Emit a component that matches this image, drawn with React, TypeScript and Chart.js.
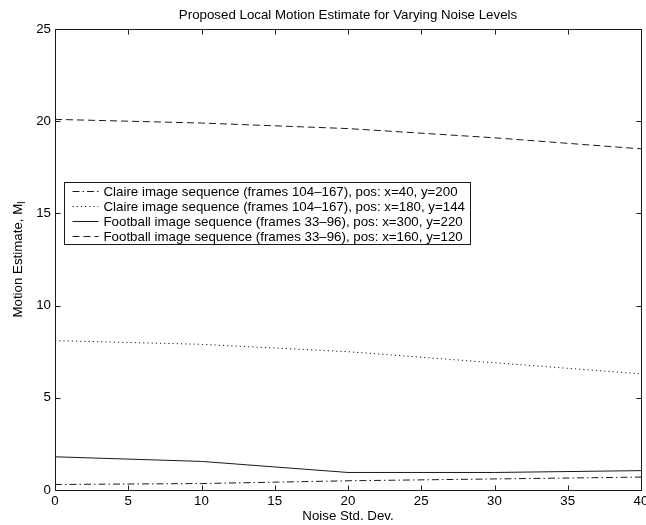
import React, { useEffect, useRef } from "react";
import { Chart, registerables } from "chart.js";

Chart.register(...registerables);

// Noise standard deviation at which each estimate was computed
const noiseLevels = [0, 10, 20, 30, 40];

// Local motion estimates per sequence / position
const claireX40Y200 = [0.3, 0.35, 0.5, 0.6, 0.7];
const claireX180Y144 = [8.1, 7.9, 7.5, 6.9, 6.3];
const footballX300Y220 = [1.8, 1.55, 0.95, 0.95, 1.05];
const footballX160Y120 = [20.1, 19.9, 19.6, 19.1, 18.5];

const seriesLabels = [
  "Claire image sequence (frames 104\u2013167), pos: x=40, y=200",
  "Claire image sequence (frames 104\u2013167), pos: x=180, y=144",
  "Football image sequence (frames 33\u201396), pos: x=300, y=220",
  "Football image sequence (frames 33\u201396), pos: x=160, y=120",
];

const xTickValues = [0, 5, 10, 15, 20, 25, 30, 35, 40];
const yTickValues = [0, 5, 10, 15, 20, 25];

const chartTitle = "Proposed Local Motion Estimate for Varying Noise Levels";
const xAxisTitle = "Noise Std. Dev.";
const yAxisTitle = "Motion Estimate, M";
const yAxisSubscript = "l";

const FONT = '"Liberation Sans", Arial, Helvetica, sans-serif';
const SIZE = 13.3;
const INK = "#1a1a1a";

const lineDashes: number[][] = [
  [7, 3, 1.5, 3],
  [1.2, 3],
  [],
  [7, 4],
];

const toPoints = (ys: number[]) => noiseLevels.map((x, i) => ({ x, y: ys[i] }));

// Frame, inward ticks, titles and the boxed legend inside the plot
const framePlugin = {
  id: "matlabFrame",
  afterDraw(chart: any) {
    const { ctx, chartArea: a, scales } = chart;
    const xs = scales.x;
    const ys = scales.y;
    ctx.save();
    ctx.strokeStyle = INK;
    ctx.lineWidth = 1;
    ctx.setLineDash([]);
    const L = Math.round(a.left) + 0.5;
    const R = Math.round(a.right) + 0.5;
    const T = Math.round(a.top) + 0.5;
    const B = Math.round(a.bottom) + 0.5;
    ctx.strokeRect(L, T, R - L, B - T);
    const tl = 5;
    ctx.beginPath();
    for (const v of xTickValues) {
      const px = Math.round(xs.getPixelForValue(v)) + 0.5;
      ctx.moveTo(px, B);
      ctx.lineTo(px, B - tl);
      ctx.moveTo(px, T);
      ctx.lineTo(px, T + tl);
    }
    for (const v of yTickValues) {
      const py = Math.round(ys.getPixelForValue(v)) + 0.5;
      ctx.moveTo(L, py);
      ctx.lineTo(L + tl, py);
      ctx.moveTo(R, py);
      ctx.lineTo(R - tl, py);
    }
    ctx.stroke();

    ctx.fillStyle = "#000";
    ctx.textAlign = "center";
    ctx.textBaseline = "middle";
    ctx.font = `${SIZE}px ${FONT}`;
    ctx.fillText(chartTitle, (a.left + a.right) / 2, 15);
    ctx.fillText(xAxisTitle, (a.left + a.right) / 2, 516);

    // rotated y-axis title with subscript
    ctx.save();
    const cy = (a.top + a.bottom) / 2;
    ctx.translate(18, cy);
    ctx.rotate(-Math.PI / 2);
    ctx.font = `${SIZE}px ${FONT}`;
    const mainW = ctx.measureText(yAxisTitle).width;
    ctx.font = `${SIZE - 3}px ${FONT}`;
    const subW = ctx.measureText(yAxisSubscript).width;
    const total = mainW + subW;
    ctx.textAlign = "left";
    ctx.font = `${SIZE}px ${FONT}`;
    ctx.fillText(yAxisTitle, -total / 2, 0);
    ctx.font = `${SIZE - 3}px ${FONT}`;
    ctx.fillText(yAxisSubscript, -total / 2 + mainW, 4);
    ctx.restore();

    // legend
    ctx.font = `${SIZE}px ${FONT}`;
    const datasets = chart.data.datasets;
    let maxW = 0;
    datasets.forEach((d: any) => {
      maxW = Math.max(maxW, ctx.measureText(d.label).width);
    });
    const bx = 64.5;
    const by = 182.5;
    const rowH = 15;
    const sampleL = 8;
    const sampleR = 34;
    const textX = 39;
    const bw = Math.round(textX + maxW + 6);
    const bh = Math.round(rowH * datasets.length + 2);
    ctx.fillStyle = "#fff";
    ctx.fillRect(bx, by, bw, bh);
    ctx.strokeStyle = INK;
    ctx.lineWidth = 1;
    ctx.strokeRect(bx, by, bw, bh);
    datasets.forEach((d: any, i: number) => {
      const yRow = Math.round(by + 1 + rowH * i + rowH / 2) + 0.5;
      ctx.strokeStyle = d.borderColor;
      ctx.lineWidth = d.borderWidth;
      ctx.setLineDash(d.borderDash || []);
      ctx.beginPath();
      ctx.moveTo(bx + sampleL, yRow);
      ctx.lineTo(bx + sampleR, yRow);
      ctx.stroke();
      ctx.setLineDash([]);
      ctx.fillStyle = "#000";
      ctx.textAlign = "left";
      ctx.textBaseline = "middle";
      ctx.fillText(d.label, bx + textX, yRow + 0.5);
    });
    ctx.restore();
  },
};

export default function App() {
  const canvasRef = useRef<HTMLCanvasElement | null>(null);

  useEffect(() => {
    document.body.style.margin = "0";
    const canvas = canvasRef.current;
    if (!canvas) return;
    const seriesValues = [claireX40Y200, claireX180Y144, footballX300Y220, footballX160Y120];
    const chart = new Chart(canvas, {
      type: "line",
      data: {
        datasets: seriesValues.map((vals, i) => ({
          label: seriesLabels[i],
          data: toPoints(vals),
          borderColor: INK,
          borderWidth: 1,
          borderDash: lineDashes[i],
          pointRadius: 0,
          fill: false,
          tension: 0,
        })),
      },
      options: {
        responsive: false,
        animation: false,
        devicePixelRatio: 1,
        layout: { padding: { left: 0, right: 5, top: 29, bottom: 0 } },
        plugins: {
          legend: { display: false },
          title: { display: false },
          tooltip: { enabled: false },
        },
        scales: {
          x: {
            type: "linear",
            min: 0,
            max: 40,
            afterFit: (s: any) => {
              s.height = 35;
              s.paddingLeft = 0;
              s.paddingRight = 0;
            },
            afterBuildTicks: (s: any) => {
              s.ticks = xTickValues.map((v) => ({ value: v }));
            },
            grid: { display: false, drawTicks: false },
            border: { display: false },
            ticks: {
              color: "#000",
              font: { family: FONT, size: SIZE },
              padding: 3,
              maxRotation: 0,
              autoSkip: false,
            },
          },
          y: {
            type: "linear",
            min: 0,
            max: 25,
            afterFit: (s: any) => {
              s.width = 55;
              s.paddingTop = 0;
              s.paddingBottom = 0;
            },
            afterBuildTicks: (s: any) => {
              s.ticks = yTickValues.map((v) => ({ value: v }));
            },
            grid: { display: false, drawTicks: false },
            border: { display: false },
            ticks: {
              color: "#000",
              font: { family: FONT, size: SIZE },
              padding: 4,
              autoSkip: false,
            },
          },
        },
      },
      plugins: [framePlugin],
    });
    return () => chart.destroy();
  }, []);

  return (
    <div style={{ position: "absolute", left: 0, top: 0, width: 646, height: 525, background: "#fff" }}>
      <canvas ref={canvasRef} width={646} height={525} style={{ width: 646, height: 525, display: "block" }} />
    </div>
  );
}
